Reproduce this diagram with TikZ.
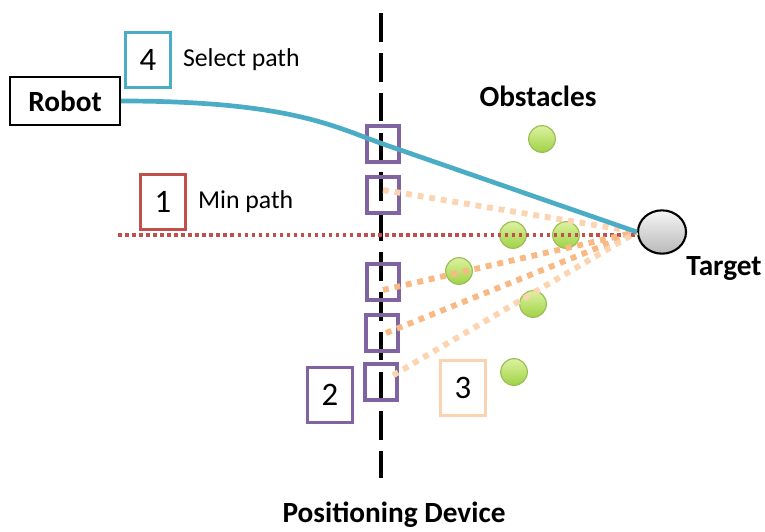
\documentclass[tikz,border=0pt]{standalone}
\usepackage{fontspec}
\setmainfont{Carlito}
\usepackage{tikz}
\usetikzlibrary{positioning,shapes.geometric}
\definecolor{plblue}{RGB}{75,172,198}
\definecolor{plred}{RGB}{192,80,77}
\definecolor{plpurple}{RGB}{128,100,162}
\definecolor{plpeach}{RGB}{250,212,178}
\definecolor{probelight}{RGB}{252,212,178}
\definecolor{probedark}{RGB}{249,185,132}
\definecolor{obsgreen}{RGB}{155,190,85}
\definecolor{obstop}{RGB}{220,242,160}
\definecolor{obsbottom}{RGB}{160,210,70}

\begin{document}
\begin{tikzpicture}[x=0.03cm, y=-0.03cm,
    agent/.style={rectangle, draw=black, line width=1.8pt, fill=white,
                  minimum width=3.3cm, minimum height=1.44cm,
                  font=\fontsize{25}{28}\selectfont\bfseries},
    stepnum/.style={rectangle, line width=3pt, fill=white,
                    minimum width=1.35cm, minimum height=1.66cm,
                    font=\fontsize{28}{30}\selectfont},
    gate/.style={rectangle, draw=plpurple, line width=2.6pt,
                 minimum width=0.96cm, minimum height=1.08cm},
    obstacle/.style={circle, draw=obsgreen, line width=1pt,
                     top color=obstop, bottom color=obsbottom,
                     minimum size=0.8cm, inner sep=0pt},
    goal/.style={ellipse, draw=black, line width=1.8pt,
                 top color=gray!8, bottom color=gray!55,
                 minimum width=1.44cm, minimum height=1.3cm},
    label/.style={font=\fontsize{22}{24}\selectfont},
    heading/.style={font=\fontsize{25}{28}\selectfont\bfseries},
    route/.style={plblue, line width=4pt},
    minroute/.style={plred, line width=3pt, dash pattern=on 3pt off 3pt},
    probe/.style={line width=5pt, dash pattern=on 5pt off 5pt},
  ]
  \useasboundingbox (0,0) rectangle (765,531);

  % Positioning device axis
  \coordinate (devtop) at (381,13);
  \coordinate (devbot) at (381,478);
  \draw[black, line width=3.4pt, dash pattern=on 24.6pt off 9.4pt] (devtop) -- (devbot);
  \node[heading] (device) at (394,515) {Positioning Device};

  % Obstacles
  \node[heading] (obstitle) at (538,96) {Obstacles};
  \foreach \n/\x/\y in {1/542/139, 2/513/235, 3/566/235, 4/459/271, 5/533/304, 6/514/372}
    \node[obstacle] (o\n) at (\x,\y) {};

  % Robot and target
  \node[agent] (robot) at (65,101) {Robot};
  \node[goal] (tgt) at (662,232) {};
  \node[heading] (tgtlabel) at (724,268) {Target};

  % Gates on the device
  \node[gate] (ga) at (383,144) {};
  \node[gate] (gb) at (383,195) {};
  \node[gate] (gc) at (383,282) {};
  \node[gate] (gd) at (382,333) {};
  \node[gate] (ge) at (381,382) {};

  % Min path
  \coordinate (minstart) at (118,235);
  \draw[minroute] (minstart) -- ([yshift=-0.09cm]tgt.west);

  % Probes
  \draw[probe, probelight] ([yshift=0.15cm]gb.center) -- (tgt.west);
  \draw[probe, probedark] ([yshift=-0.24cm]gc.center) -- (tgt.west);
  \draw[probe, probedark] ([xshift=0.12cm]gd.center) -- (tgt.west);
  \draw[probe, probelight] ([xshift=0.36cm, yshift=0.2cm]ge.center) -- (tgt.west);

  % Selected path
  \draw[route] (robot.east) .. controls (290,101) and (335,127) .. (ga.center) -- (tgt.west);

  % Step boxes
  \node[stepnum, draw=plblue] (s4) at (148,60) {4};
  \node[label, right=0.2cm of s4] (s4text) {Select path};
  \node[stepnum, draw=plred] (s1) at (163,202) {1};
  \node[label, right=0.2cm of s1] (s1text) {Min path};
  \node[stepnum, draw=plpurple] (s2) at (330,395) {2};
  \node[stepnum, draw=plpeach] (s3) at (463,388) {3};
\end{tikzpicture}
\end{document}
